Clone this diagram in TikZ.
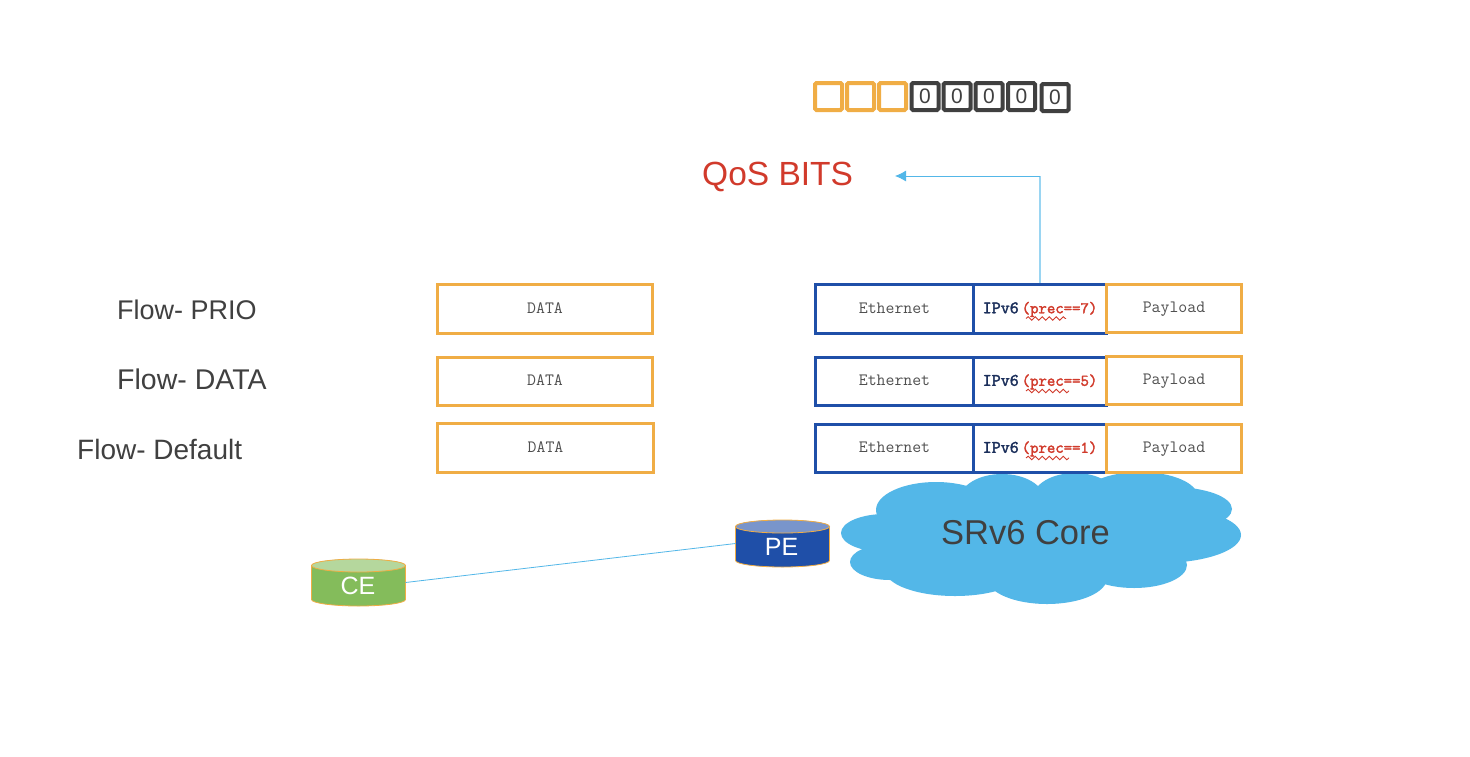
\documentclass[tikz,border=0pt]{standalone}
\usepackage{fontspec}
\setmainfont{Liberation Sans}
\newfontfamily\monoheavy[FakeBold=2.2]{Latin Modern Mono}
\usetikzlibrary{shapes.geometric,decorations.pathmorphing,arrows.meta}
\definecolor{cisorange}{HTML}{F0AD45}
\definecolor{cisblue}{HTML}{1F4FA8}
\definecolor{cisdark}{HTML}{404040}
\definecolor{cisred}{HTML}{D13A2B}
\definecolor{cissky}{HTML}{53B7E8}
\definecolor{cissoft}{HTML}{9AD5F2}
\definecolor{cisgreen}{HTML}{84BC5B}
\definecolor{cisnavy}{HTML}{1B2F5B}
\definecolor{cisgray}{HTML}{505050}
\newcommand{\fsz}[1]{\fontsize{#1}{#1}\selectfont}
\newcommand{\cellbox}[7]{\node[#6,minimum width={(#4)-(#2)},minimum height={(#5)-(#3)}] (#1) at ({((#2)+(#4))/2},{((#3)+(#5))/2}) {#7};}
\newcommand{\ipvtext}[1]{{\monoheavy\fsz{17.5}\textcolor{cisnavy}{IPv6}\hspace{3pt}\fsz{16.3}\textcolor{cisred}{(prec==#1)}}}
\newcommand{\drumshape}[5]{%
  \node[drum] (#1) at (#2,#3) {};
  \fill[#4] ([yshift=-6.5pt]#1.north west) -- ([yshift=6.5pt]#1.south west) arc[start angle=180,end angle=0,x radius=47,y radius=6.5] -- ([yshift=-6.5pt]#1.north east) arc[start angle=0,end angle=-180,x radius=47,y radius=6.5] -- cycle;
  \draw[drumedge] ([yshift=-6.5pt]#1.north west) -- ([yshift=6.5pt]#1.south west) arc[start angle=180,end angle=0,x radius=47,y radius=6.5] -- ([yshift=-6.5pt]#1.north east);
  \filldraw[drumedge,fill=#5] ([yshift=-6.5pt]#1.north) ellipse [x radius=47,y radius=6.5];
}
\tikzset{
  monobox/.style={rectangle,fill=white,line width=3pt,inner sep=0pt,font=\ttfamily\fsz{17.3},text=cisgray,text height=10pt,text depth=1.5pt},
  orangebox/.style={monobox,draw=cisorange},
  bluebox/.style={monobox,draw=cisblue},
  bit/.style={rectangle,rounded corners=1.5pt,line width=4pt,minimum width=27pt,minimum height=27pt,inner sep=0pt,fill=white,font=\fsz{21},text=cisdark},
  setbit/.style={bit,draw=cisorange},
  zerobit/.style={bit,draw=cisdark},
  flowlabel/.style={anchor=west,inner sep=0pt,text=cisdark},
  squiggle/.style={draw=cisred,line width=.9pt,decorate,decoration={snake,amplitude=1.8pt,segment length=7pt}},
  drum/.style={rectangle,minimum width=94pt,minimum height=47pt,inner sep=0pt,outer sep=0pt},
  drumedge/.style={draw=cisorange,line width=.8pt},
  drumlabel/.style={inner sep=0pt,font=\fsz{25},text=white},
  link/.style={draw=cissky,line width=.8pt},
  puff/.style={fill=cissky,draw=none}
}
\begin{document}
\begin{tikzpicture}[x=1pt,y=-1pt]
\useasboundingbox (0,0) rectangle (1470,756);
\fill[white] (0,0) rectangle (1470,756);
% cloud
\foreach \cx/\cy/\rx/\ry in {
 936/510/60/28, 1002/499/42/25, 1075/498/42/25, 1140/497/58/25,
 1172/509/60/22, 1160/535/81/28, 1134/565/53/23, 1047/578/60/26,
 955/570/70/26, 890/562/40/18, 885/533/44/19}
  \fill[puff] (\cx,\cy) ellipse [x radius=\rx,y radius=\ry];
\fill[puff] (890,510) rectangle (1170,565);
\node[inner sep=0pt,font=\fsz{34.5},text=cisdark] (core) at (1025.5,533) {SRv6 Core};
% bits
\node[setbit] (b1) at (828.5,96.5) {};
\node[setbit] (b2) at (860.5,96.5) {};
\node[setbit] (b3) at (892.5,96.5) {};
\node[zerobit] (b4) at (925,96.5) {0};
\node[zerobit] (b5) at (957,96.5) {0};
\node[zerobit] (b6) at (989,96.5) {0};
\node[zerobit] (b7) at (1021.5,96.5) {0};
\node[zerobit] (b8) at (1055,97.5) {0};
% QoS
\node[inner sep=0pt,anchor=west,font=\fsz{33.5},text=cisred] (qos) at (702,177) {QoS BITS};
\coordinate (qosin) at (895,176);
% flow labels
\node[flowlabel,font=\fsz{27}] (f1) at (117,310) {Flow- PRIO};
\node[flowlabel,font=\fsz{28.5}] (f2) at (117,379) {Flow- DATA};
\node[flowlabel,font=\fsz{28}] (f3) at (77,449) {Flow- Default};
% data
\cellbox{d1}{437.5}{284.5}{652.5}{333}{orangebox}{DATA}
\cellbox{d2}{437.5}{357.5}{652.5}{405.5}{orangebox}{DATA}
\cellbox{d3}{437.5}{423.5}{653.5}{472}{orangebox}{DATA}
% row 1
\cellbox{e1}{815.5}{284.5}{973.5}{333.5}{bluebox}{Ethernet}
\cellbox{i1}{973.5}{284.5}{1106.5}{333.5}{bluebox}{\ipvtext{7}}
\cellbox{p1}{1106.5}{284.5}{1241.5}{332.5}{orangebox}{Payload}
% row 2
\cellbox{e2}{815.5}{357.5}{973.5}{405.5}{bluebox}{Ethernet}
\cellbox{i2}{973.5}{357.5}{1106.5}{405.5}{bluebox}{\ipvtext{5}}
\cellbox{p2}{1106.5}{356.5}{1241.5}{404.5}{orangebox}{Payload}
% row 3
\cellbox{e3}{815.5}{424.5}{973.5}{472.5}{bluebox}{Ethernet}
\cellbox{i3}{973.5}{424.5}{1106.5}{472.5}{bluebox}{\ipvtext{1}}
\cellbox{p3}{1106.5}{424.5}{1241.5}{472}{orangebox}{Payload}
% spelling squiggles
\draw[squiggle] ([shift={(-14,9.5)}]i1.center) -- ([shift={(26,9.5)}]i1.center);
\draw[squiggle] ([shift={(-14,9.5)}]i2.center) -- ([shift={(29,9.5)}]i2.center);
\draw[squiggle] ([shift={(-14,9.5)}]i3.center) -- ([shift={(29,9.5)}]i3.center);
% arrow
\draw[draw=cissoft,line width=1.2pt] (i1.north) -- (i1.north |- qosin);
\draw[draw=cissky,line width=.8pt,-{Latex[length=11pt,width=11pt]}] (i1.north |- qosin) -- (qosin);
% CE / PE
\drumshape{ce}{358.5}{582.5}{cisgreen}{cisgreen!60!white}
\drumshape{pe}{782.5}{543.5}{cisblue}{cisblue!60!white}
\node[drumlabel] (cel) at (358,586) {CE};
\node[drumlabel] (pel) at (781.5,547) {PE};
\draw[link] (ce.east) -- (pe.west);
\end{tikzpicture}
\end{document}
